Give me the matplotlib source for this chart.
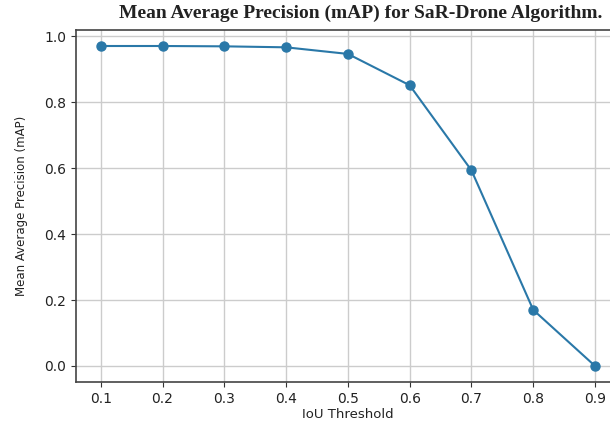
import matplotlib
matplotlib.use("Agg")
import matplotlib.pyplot as plt

iou_thresholds = [0.1, 0.2, 0.3, 0.4, 0.5, 0.6, 0.7, 0.8, 0.9]
map_values = [0.970, 0.970, 0.969, 0.966, 0.946, 0.851, 0.593, 0.170, 0.0]
y_ticks = [0.0, 0.2, 0.4, 0.6, 0.8, 1.0]

fig = plt.figure(figsize=(6.1, 4.25), dpi=100)
ax = fig.add_axes([0.1246, 0.1012, 1.016 - 0.1246, 0.9294 - 0.1012])
ax.plot(iou_thresholds, map_values, marker='o', color='#2a78a8', linewidth=1.5, markersize=6.5)
ax.grid(True, color='#cccccc', linewidth=1.0)
ax.set_axisbelow(True)
ax.set_xticks(iou_thresholds)
ax.set_yticks(y_ticks)
ax.set_xticklabels([f"{v:.1f}" for v in iou_thresholds])
ax.set_yticklabels([f"{v:.1f}" for v in y_ticks])
ax.tick_params(labelsize=10, colors='#333333', labelcolor='#222222')
for s in ax.spines.values():
    s.set_color('#444444')
    s.set_linewidth(1.2)
ax.set_xlabel('IoU Threshold', fontsize=9.5, color='#222222', labelpad=2)
ax.set_ylabel('Mean Average Precision (mAP)', fontsize=8.5, color='#222222', labelpad=12)
fig.text(0.592, 0.968, 'Mean Average Precision (mAP) for SaR-Drone Algorithm.',
         ha='center', va='center', fontsize=14, fontweight='bold',
         family='Liberation Serif', color='#222222')
fig.savefig('out.png', dpi=100)
